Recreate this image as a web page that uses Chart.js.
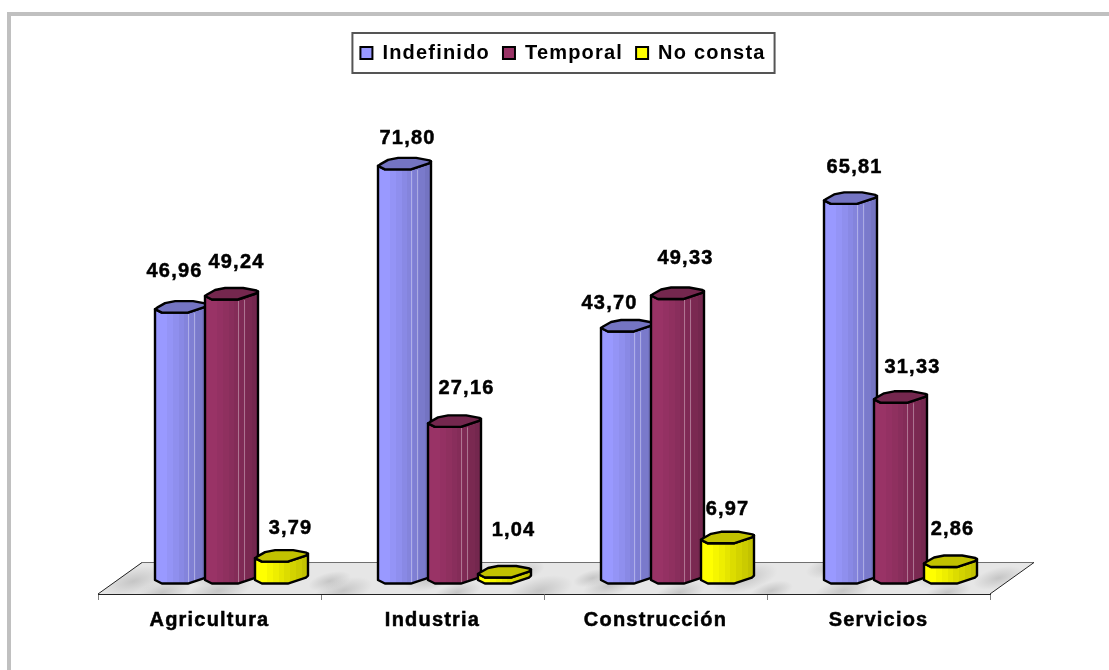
<!DOCTYPE html>
<html lang="es">
<head>
<meta charset="utf-8">
<title>Tipo de contrato por sector</title>
<script src="https://cdn.jsdelivr.net/npm/chart.js@4/dist/chart.umd.min.js"></script>
<style>
  html,body{margin:0;padding:0;background:#fff;overflow:hidden;}
  #wrap{position:relative;width:1109px;height:670px;}
  #frame{position:absolute;left:7px;top:12px;right:0;bottom:0;border-top:4px solid #c0c0c0;border-left:4px solid #c0c0c0;}
  canvas{position:absolute;left:0;top:0;}
</style>
</head>
<body>
<div id="wrap">
  <div id="frame"></div>
  <canvas id="chart" width="1109" height="670"></canvas>
</div>
<script>
const categories = ["Agricultura","Industria","Construcción","Servicios"];
const indefinido = [46.96,71.80,43.70,65.81];
const temporal = [49.24,27.16,49.33,31.33];
const noConsta = [3.79,1.04,6.97,2.86];

const FONT = "'Liberation Sans', Arial, sans-serif";
const DEPTH = 44;   // floor depth, columns sit in the middle of it
const LIFT = 14;    // px between value 0 and the front edge of the floor

// hand placed value labels, offset from the column centre / top
const labelDx = [[-7,3,-18,4],[5,12,8,12],[9,9,0,2]];
const labelDy = [[-38,-27,-24,-33],[-34,-35,-37,-32],[-30,-44,-30,-34]];

// marble blotches on the floor: fraction along, fraction across, radius
const floorSpots = [
  [.02,.6,34],[.07,.95,30],[.10,.4,24],[.13,.9,34],[.17,.15,26],[.24,.6,22],[.27,.9,30],
  [.30,.2,26],[.35,.55,26],[.40,.95,24],[.44,.3,24],[.49,.9,34],[.53,.5,20],[.56,.75,26],
  [.62,.15,30],[.65,.95,26],[.70,.5,34],[.75,.9,22],[.78,.15,26],[.83,.9,30],[.87,.45,22],
  [.92,.35,34],[.95,.95,24],[.985,.5,26]
];

// column outline, u across the width, px up/down from the left point
const capLow = [[0,0],[.13,3.5],[.62,3.5],[.79,.5],[.96,-2.5],[1,-4.5]];
const capHigh = [[.97,-5.5],[.72,-8],[.38,-8],[.19,-6],[.04,-1.5]];

function shade(hex,f){
  const n = parseInt(hex.slice(1),16);
  const r = Math.round((n>>16&255)*f), g = Math.round((n>>8&255)*f), b = Math.round((n&255)*f);
  return `rgb(${r},${g},${b})`;
}

function bandFill(ctx,x0,w,color){
  const g = ctx.createLinearGradient(x0,0,x0+w,0);
  const steps = 9;
  for(let i=0;i<steps;i++){
    const f = i<2 ? 1 : 1-(i-1)/(steps-2)*0.24;
    g.addColorStop(i/steps,shade(color,f));
    g.addColorStop((i+1)/steps,shade(color,f));
  }
  return g;
}

function drawColumn(ctx,el,color,seams){
  const w = el.width, x0 = el.x - w/2 + DEPTH/2, top = el.y, base = el.base;
  ctx.save();
  ctx.lineJoin = "round";
  ctx.lineWidth = 2.4;
  ctx.strokeStyle = "#000";

  // body
  const body = new Path2D();
  body.moveTo(x0,top);
  body.lineTo(x0,base);
  capLow.forEach(p=>body.lineTo(x0+p[0]*w,base+p[1]));
  body.lineTo(x0+w,top-4.5);
  for(let i=capLow.length-1;i>=0;i--) body.lineTo(x0+capLow[i][0]*w,top+capLow[i][1]);
  body.closePath();
  ctx.fillStyle = bandFill(ctx,x0,w,color);
  ctx.fill(body);
  if(seams){
    ctx.save();
    ctx.strokeStyle = "rgba(255,255,255,0.35)";
    ctx.lineWidth = 1;
    [.62,.74].forEach(u=>{
      ctx.beginPath();
      ctx.moveTo(Math.round(x0+u*w)+.5,top+4);
      ctx.lineTo(Math.round(x0+u*w)+.5,base+(u<.7?3:1));
      ctx.stroke();
    });
    ctx.restore();
  }
  ctx.stroke(body);

  // cap
  const cap = new Path2D();
  capLow.forEach((p,i)=>{
    if(i===0) cap.moveTo(x0,top); else cap.lineTo(x0+p[0]*w,top+p[1]);
  });
  capHigh.forEach(p=>cap.lineTo(x0+p[0]*w,top+p[1]));
  cap.closePath();
  ctx.fillStyle = shade(color,0.76);
  ctx.fill(cap);
  ctx.stroke(cap);
  ctx.restore();
}

function drawFloor(chart){
  const ctx = chart.ctx, a = chart.chartArea;
  const fb = a.bottom, bb = a.bottom-32;
  const l = a.left, r = a.right;
  ctx.save();
  ctx.beginPath();
  ctx.moveTo(l,fb);
  ctx.lineTo(r,fb);
  ctx.lineTo(r+DEPTH,bb);
  ctx.lineTo(l+DEPTH,bb);
  ctx.closePath();
  ctx.fillStyle = "#e6e6e6";
  ctx.fill();
  ctx.save();
  ctx.clip();
  floorSpots.forEach(s=>{
    const x = l + s[0]*(r-l) + (1-s[1])*DEPTH, y = bb + s[1]*32;
    ctx.save();
    ctx.translate(x,y);
    ctx.rotate(-0.25);
    ctx.scale(1,.4);
    const g = ctx.createRadialGradient(0,0,0,0,0,s[2]);
    g.addColorStop(0,"rgba(175,175,175,0.6)");
    g.addColorStop(1,"rgba(175,175,175,0)");
    ctx.fillStyle = g;
    ctx.fillRect(-s[2],-s[2],s[2]*2,s[2]*2);
    ctx.restore();
  });
  ctx.restore();
  ctx.strokeStyle = "#707070";
  ctx.lineWidth = 1;
  ctx.beginPath();
  ctx.moveTo(l+DEPTH,bb+.5);
  ctx.lineTo(r+DEPTH,bb+.5);
  ctx.stroke();
  ctx.strokeStyle = "#222";
  ctx.beginPath();
  ctx.moveTo(l,fb);
  ctx.lineTo(l+DEPTH,bb+.5);
  ctx.moveTo(r,fb);
  ctx.lineTo(r+DEPTH,bb+.5);
  ctx.stroke();
  ctx.restore();
}

const columns3d = {
  id:"columns3d",
  beforeUpdate(chart){ chart.ctx.letterSpacing = "1.2px"; },
  afterLayout(chart){
    // legend sits a bit right of the plot centre
    chart.legend.left += 19;
    chart.legend.right += 19;
    chart.legend.adjustHitBoxes();
  },
  beforeDraw(chart){
    const ctx = chart.ctx;
    ctx.letterSpacing = "1.2px";
    const hits = chart.legend.legendHitBoxes;
    const last = hits[hits.length-1];
    const x = hits[0].left-8, w = last.left+last.width+9-x;
    ctx.save();
    ctx.strokeStyle = "#555";
    ctx.lineWidth = 2;
    ctx.strokeRect(x,chart.legend.top+3,w,40);
    ctx.restore();
  },
  beforeDatasetDraw(){ return false; },
  beforeDatasetsDraw(chart){ drawFloor(chart); },
  afterDatasetsDraw(chart){
    const ctx = chart.ctx;
    chart.data.datasets.forEach((ds,i)=>{
      chart.getDatasetMeta(i).data.forEach(el=>drawColumn(ctx,el,ds.backgroundColor,i<2));
    });
    ctx.save();
    ctx.font = `bold 20px ${FONT}`;
    ctx.fillStyle = "#000";
    ctx.strokeStyle = "#000";
    ctx.lineWidth = 0.5;
    ctx.textAlign = "center";
    ctx.textBaseline = "middle";
    chart.data.datasets.forEach((ds,i)=>{
      chart.getDatasetMeta(i).data.forEach((el,j)=>{
        const txt = ds.data[j].toFixed(2).replace(".",",");
        ctx.fillText(txt,el.x+DEPTH/2+labelDx[i][j],el.y+labelDy[i][j]);
        ctx.strokeText(txt,el.x+DEPTH/2+labelDx[i][j],el.y+labelDy[i][j]);
      });
    });
    ctx.restore();
  }
};

new Chart(document.getElementById("chart"),{
  type:"bar",
  data:{
    labels:categories,
    datasets:[
      {label:"Indefinido",data:indefinido,backgroundColor:"#9999ff",borderColor:"#000",borderWidth:2},
      {label:"Temporal",data:temporal,backgroundColor:"#993366",borderColor:"#000",borderWidth:2},
      {label:"No consta",data:noConsta,backgroundColor:"#ffff00",borderColor:"#000",borderWidth:2}
    ]
  },
  options:{
    responsive:false,
    animation:false,
    categoryPercentage:0.6726,
    barPercentage:1.06,
    layout:{padding:{left:98,right:119,top:30,bottom:30}},
    plugins:{
      tooltip:{enabled:false},
      legend:{
        position:"top",
        labels:{
          boxWidth:12,boxHeight:12,padding:13,color:"#000",
          textStrokeColor:"#000",textStrokeWidth:0.5,
          font:{family:FONT,size:20,weight:"bold"}
        }
      }
    },
    scales:{
      x:{
        grid:{display:true,drawOnChartArea:false,drawTicks:true,tickLength:6,tickColor:"#808080",offset:true},
        border:{display:true,color:"#222",width:1},
        ticks:{color:"#000",padding:8,maxRotation:0,textStrokeColor:"#000",textStrokeWidth:0.5,font:{family:FONT,size:20,weight:"bold"}}
      },
      y:{display:false,min:-LIFT/5.78,max:87.9}
    }
  },
  plugins:[columns3d]
});
</script>
</body>
</html>
